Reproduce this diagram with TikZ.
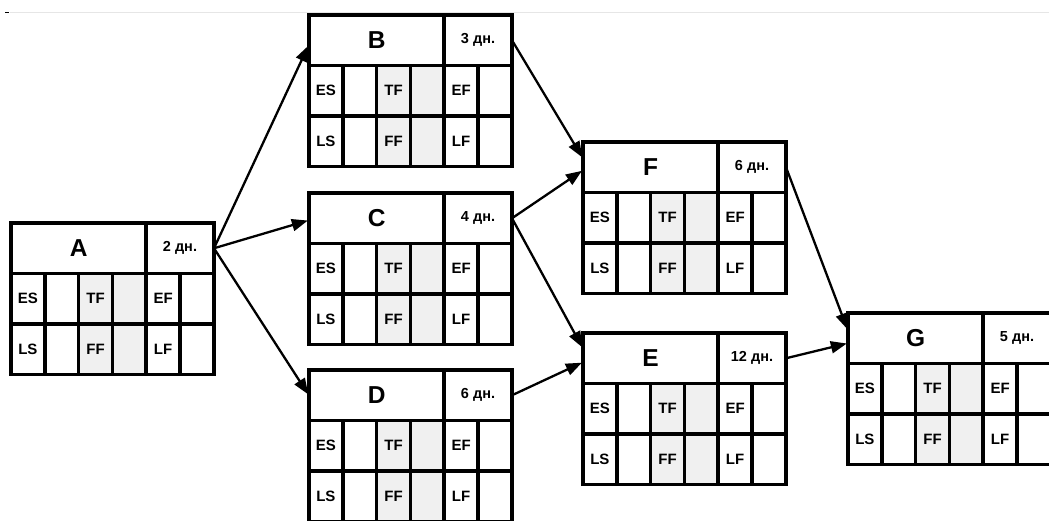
\documentclass[tikz,border=0pt]{standalone}
\usepackage{fontspec}
\setmainfont{Liberation Sans}
\usetikzlibrary{arrows.meta}
\definecolor{cellgrey}{HTML}{F0F0F0}
\definecolor{rulegrey}{HTML}{E6E6E6}
\def\cw{33.8}
\def\rh{50.5}
\tikzset{
  grid/.style={line width=3.6pt, line join=miter},
  titlecell/.style={inner sep=0pt, minimum width=4*\cw pt, minimum height=\rh pt, font=\fontsize{24.5}{26}\selectfont\bfseries},
  durcell/.style={inner sep=0pt, minimum width=2*\cw pt, minimum height=\rh pt, font=\fontsize{14.5}{16}\selectfont\bfseries},
  lbl/.style={inner sep=0pt, font=\fontsize{15}{17}\selectfont\bfseries},
  arr/.style={line width=2.3pt, -{Triangle[length=16pt,width=12pt]}, shorten >=1pt},
}
\newcommand\pertbox[5]{%
  \begin{scope}[shift={(#2,#3)}]
    \fill[cellgrey] (2*\cw,\rh) rectangle (4*\cw,3*\rh);
    \draw[grid] (0,0) rectangle (6*\cw,3*\rh);
    \draw[grid] (0,\rh) -- (6*\cw,\rh) (0,2*\rh) -- (6*\cw,2*\rh) (4*\cw,0) -- (4*\cw,3*\rh);
    \foreach \i in {1,2,3,5} \draw[grid] (\i*\cw,\rh) -- (\i*\cw,3*\rh);
    \node[titlecell] (#1) at (2*\cw,0.5*\rh) {#4};
    \node[durcell] (#1d) at (5*\cw,0.5*\rh) {#5};
    \node[lbl] (#1es) at (0.5*\cw,1.5*\rh) {ES};
    \node[lbl] (#1tf) at (2.5*\cw,1.5*\rh) {TF};
    \node[lbl] (#1ef) at (4.5*\cw,1.5*\rh) {EF};
    \node[lbl] (#1ls) at (0.5*\cw,2.5*\rh) {LS};
    \node[lbl] (#1ff) at (2.5*\cw,2.5*\rh) {FF};
    \node[lbl] (#1lf) at (4.5*\cw,2.5*\rh) {LF};
  \end{scope}}
\begin{document}
\begin{tikzpicture}[x=1pt,y=-1pt]
  \useasboundingbox (0,0) rectangle (1049,520);
  \clip (0,0) rectangle (1049,520);
  \fill[white] (0,0) rectangle (1049,520);
  \draw[rulegrey, line width=1pt] (10,12.3) -- (1049,12.3);
  \draw[black, line width=1.3pt] (5,12.8) -- (8.5,12.8);
  \pertbox{A}{11}{223}{A}{2 дн.}
  \pertbox{B}{309}{15}{B}{3 дн.}
  \pertbox{C}{309}{193}{C}{4 дн.}
  \pertbox{D}{309}{370}{D}{6 дн.}
  \pertbox{F}{583}{142}{F}{6 дн.}
  \pertbox{E}{583}{333}{E}{12 дн.}
  \pertbox{G}{848}{313}{G}{5 дн.}
  \draw[arr] (Ad.east) -- ([yshift=-4.5pt]B.west);
  \draw[arr] (Ad.east) -- ([yshift=-2pt]C.west);
  \draw[arr] (Ad.east) -- (D.west);
  \draw[arr] (Bd.east) -- ([yshift=9pt]F.west);
  \draw[arr] (Cd.east) -- ([yshift=-3pt]F.west);
  \draw[arr] (Cd.east) -- ([yshift=10pt]E.west);
  \draw[arr] (Dd.east) -- ([yshift=-4pt]E.west);
  \draw[arr] (Fd.east) -- ([yshift=8pt]G.west);
  \draw[arr] (Ed.east) -- ([yshift=-5pt]G.west);
\end{tikzpicture}
\end{document}
